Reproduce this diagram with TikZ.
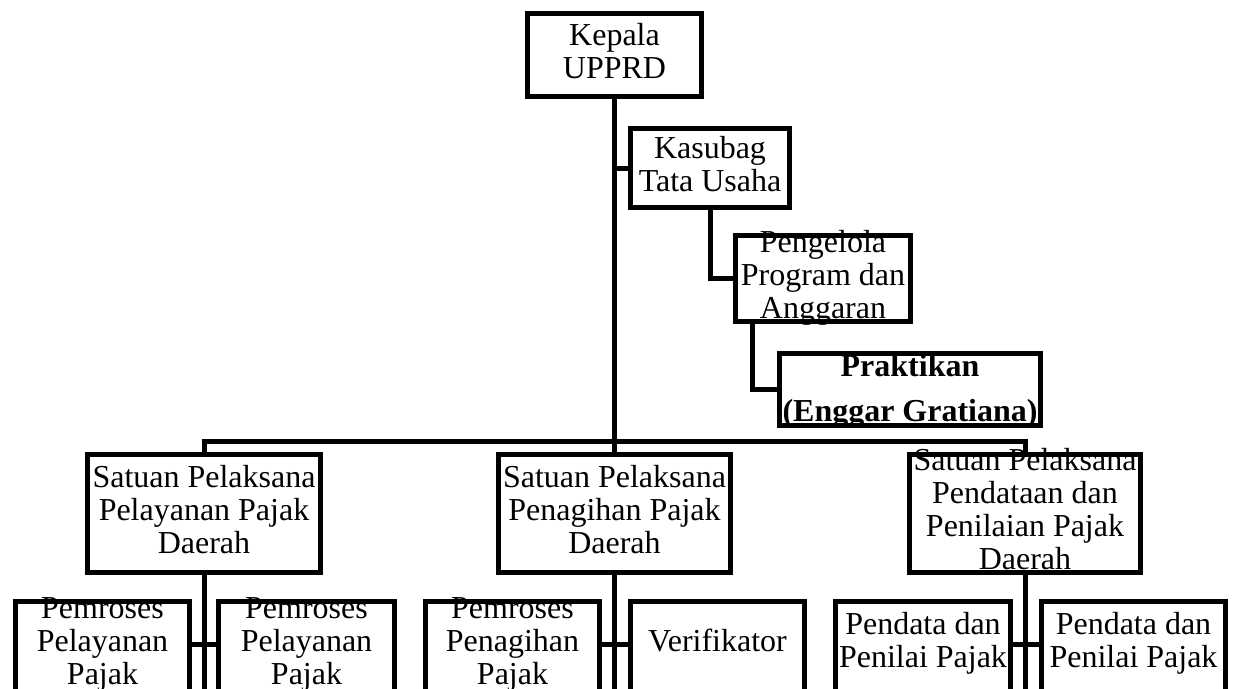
\documentclass[tikz,border=0pt]{standalone}
\usepackage{fontspec}
\setmainfont{Liberation Serif}
\newsavebox{\unitbox}
\newlength{\unitshift}
% text block centred on its baseline, no height or depth
\newcommand{\unitlines}[1]{%
   \sbox{\unitbox}{\begin{tabular}{@{}c@{}}#1\end{tabular}}%
   \setlength{\unitshift}{\dimexpr(\dp\unitbox-\ht\unitbox)/2\relax}%
   \raisebox{\unitshift}[0pt][0pt]{\usebox{\unitbox}}}
\tikzset{
   unit/.style  = {rectangle, draw, line width=1mm, inner sep=0pt,
                   font=\fontsize{18.2pt}{18.8pt}\selectfont},
   staff/.style = {unit, minimum height=22mm, text depth=4.8mm},
   link/.style  = {line width=1mm},
}
\begin{document}
\begin{tikzpicture}

      \useasboundingbox (0mm,0mm) rectangle (247.4mm,-137.6mm);
      \clip (0mm,0mm) rectangle (247.4mm,-137.6mm);

      \node[
         unit,
         minimum width=34.8mm,
         minimum height=16.6mm,
      ] (kepala) at (122.9mm,-11mm) {\unitlines{Kepala\\UPPRD}};

      \node[
         unit,
         minimum width=31.8mm,
         minimum height=15.8mm,
      ] (kasubag) at (142mm,-33.6mm) {\unitlines{Kasubag\\Tata Usaha}};

      \node[
         unit,
         minimum width=35mm,
         minimum height=17.2mm,
      ] (pengelola) at (164.6mm,-55.7mm) {\unitlines{Pengelola\\Program dan\\Anggaran}};

      \node[
         unit,
         font=\fontsize{18.2pt}{25.6pt}\selectfont\bfseries,
         minimum width=52.2mm,
         minimum height=14.4mm,
      ] (praktikan) at (182mm,-77.9mm) {\unitlines{Praktikan\\(Enggar Gratiana)}};

      \node[
         unit,
         minimum width=46.6mm,
         minimum height=23.6mm,
      ] (pelayanan) at (40.8mm,-102.7mm) {\unitlines{Satuan Pelaksana\\Pelayanan Pajak\\Daerah}};

      \node[
         unit,
         minimum width=46.4mm,
         minimum height=23.6mm,
      ] (penagihan) at (122.9mm,-102.7mm) {\unitlines{Satuan Pelaksana\\Penagihan Pajak\\Daerah}};

      \node[
         unit,
         minimum width=46.2mm,
         minimum height=23.6mm,
      ] (pendataan) at (205mm,-102.7mm) {\unitlines{Satuan Pelaksana\\Pendataan dan\\Penilaian Pajak\\Daerah}};

      \node[staff, minimum width=34.8mm] (pelayananA) at (20.5mm,-131.3mm)  {\unitlines{Pemroses\\Pelayanan\\Pajak}};
      \node[staff, minimum width=35.2mm] (pelayananB) at (61.3mm,-131.3mm)  {\unitlines{Pemroses\\Pelayanan\\Pajak}};
      \node[staff, minimum width=34.8mm] (penagihanA) at (102.5mm,-131.3mm) {\unitlines{Pemroses\\Penagihan\\Pajak}};
      \node[staff, minimum width=34.8mm] (verifikator) at (143.5mm,-131.3mm) {\unitlines{Verifikator}};
      \node[staff, minimum width=35mm]   (pendataanA) at (184.6mm,-131.3mm) {\unitlines{Pendata dan\\Penilai Pajak}};
      \node[staff, minimum width=36.8mm] (pendataanB) at (226.7mm,-131.3mm) {\unitlines{Pendata dan\\Penilai Pajak}};

      \coordinate (bar) at (122.9mm,-88.2mm);

      \draw[link] (kepala.south)     -- (penagihan.north);
      \draw[link] (kasubag.west)     -- (kasubag.west -| kepala.south);
      \draw[link] (kasubag.south)    |- (pengelola.west);
      \draw[link] ([xshift=3.8mm]pengelola.south west) |- (praktikan.west);
      \draw[link] (pelayanan.north)  |- (bar) -| (pendataan.north);

      \draw[link] (pelayanan.south)  -- (pelayanan.south |- pelayananA.south);
      \draw[link] (penagihan.south)  -- (penagihan.south |- penagihanA.south);
      \draw[link] (pendataan.south)  -- (pendataan.south |- pendataanA.south);
      \draw[link] (pelayananA.base east) -- (pelayananB.base west);
      \draw[link] (penagihanA.base east) -- (verifikator.base west);
      \draw[link] (pendataanA.base east) -- (pendataanB.base west);

\end{tikzpicture}
\end{document}
